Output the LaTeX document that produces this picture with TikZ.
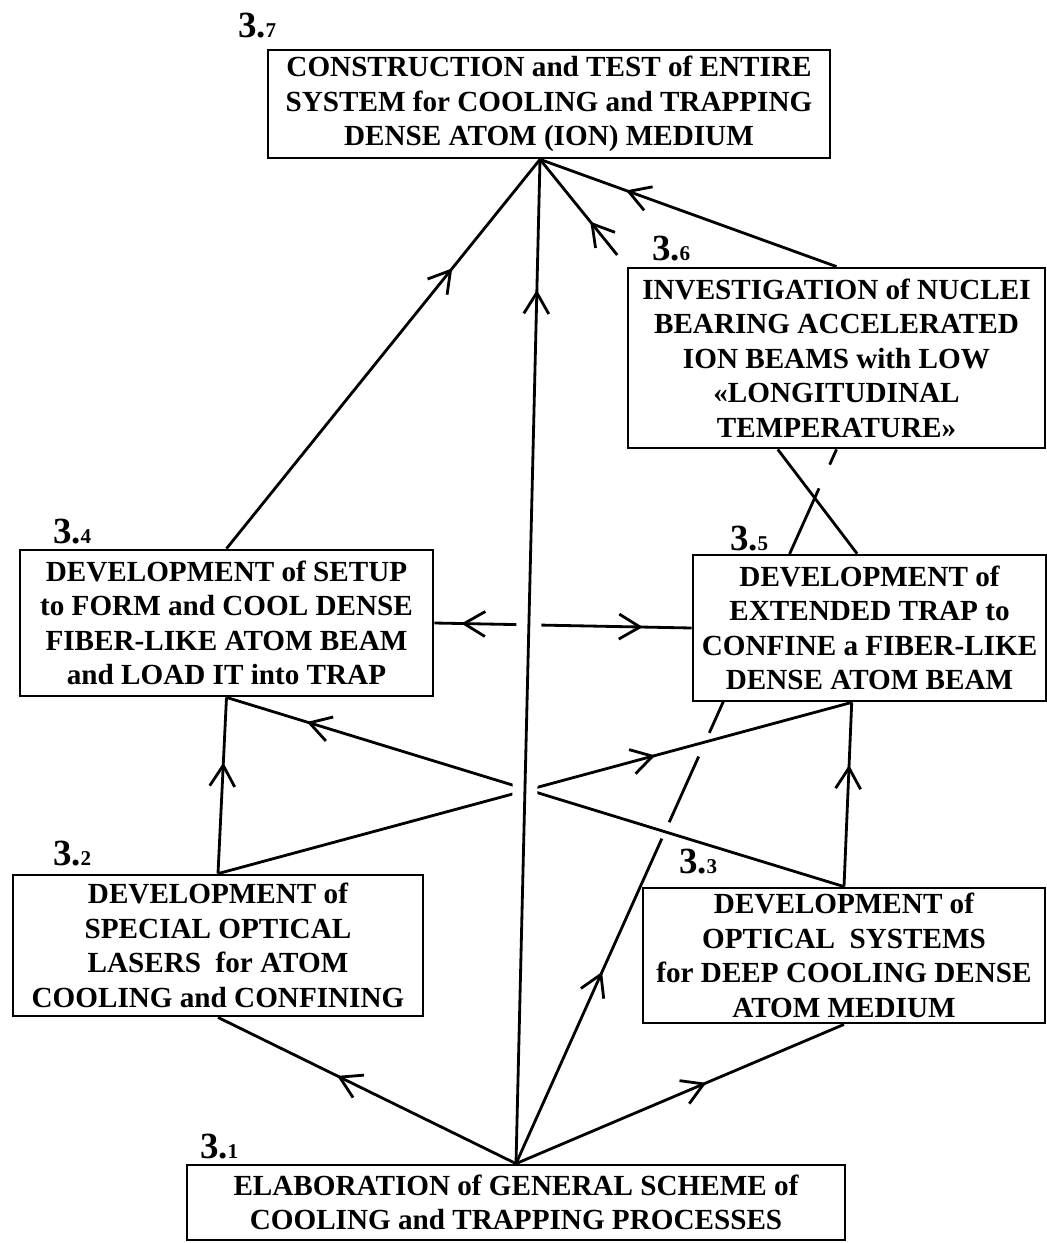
\documentclass[tikz,border=0pt]{standalone}
\usepackage{fontspec}
\setmainfont{Liberation Serif}
\usetikzlibrary{arrows.meta,calc,decorations.markings}
\pgfdeclarelayer{bg}
\pgfsetlayers{bg,main}
\newcommand{\boxfont}{\fontsize{16.6}{19.6}\selectfont\bfseries}
\newcommand{\numbig}{\fontsize{21}{21}\selectfont\bfseries}
\newcommand{\numsmall}{\fontsize{12}{12}\selectfont\bfseries}
\tikzset{midarrow/.style={postaction={decorate,decoration={markings,mark=at position #1 with {\arrow{Straight Barb[length=0.42cm,width=0.5cm]}}}}}}

\begin{document}
\begin{tikzpicture}[x=0.02cm, y=-0.02cm, line width=1.6pt]
\tikzstyle{box} = [rectangle, draw=black, fill=white, inner sep=0pt, align=center, font=\boxfont]
\tikzstyle{num} = [anchor=base west, inner sep=0pt]
\tikzstyle{link} = [line width=1.6pt, line join=round]
\useasboundingbox (0,0) rectangle (1047,1243);
% boxes
\node (b7)[box, minimum width=11.24cm, minimum height=2.16cm] at (549,104) {CONSTRUCTION and TEST of ENTIRE\\SYSTEM for COOLING and TRAPPING\\DENSE ATOM (ION) MEDIUM};
\node (b6)[box, minimum width=8.34cm, minimum height=3.6cm] at (836.5,358) {INVESTIGATION of NUCLEI\\BEARING ACCELERATED\\ION BEAMS with LOW\\«LONGITUDINAL\\TEMPERATURE»};
\node (b4)[box, minimum width=8.26cm, minimum height=2.92cm] at (226.5,623) {DEVELOPMENT of SETUP\\to FORM and COOL DENSE\\FIBER-LIKE ATOM BEAM\\and LOAD IT into TRAP};
\node (b5)[box, minimum width=7.06cm, minimum height=2.92cm] at (869.5,628) {DEVELOPMENT of\\EXTENDED TRAP to\\CONFINE a FIBER-LIKE\\DENSE ATOM BEAM};
\node (b2)[box, minimum width=8.2cm, minimum height=2.82cm] at (218,945.5) {DEVELOPMENT of\\SPECIAL OPTICAL\\LASERS\ \ for ATOM\\COOLING and CONFINING};
\node (b3)[box, minimum width=8.04cm, minimum height=2.7cm] at (844,955.5) {DEVELOPMENT of\\OPTICAL\ \ SYSTEMS\\for DEEP COOLING DENSE\\ATOM MEDIUM};
\node (b1)[box, minimum width=13.16cm, minimum height=1.5cm] at (516,1202.5) {ELABORATION of GENERAL SCHEME of\\COOLING and TRAPPING PROCESSES};
% numbers
\node (l7)[num] at ([xshift=-0.6cm,yshift=0.22cm]b7.north west) {\numbig 3.\numsmall 7};
\node (l6)[num] at ([xshift=0.48cm,yshift=0.12cm]b6.north west) {\numbig 3.\numsmall 6};
\node (l4)[num] at ([xshift=0.66cm,yshift=0.1cm]b4.north west) {\numbig 3.\numsmall 4};
\node (l5)[num] at ([xshift=0.74cm,yshift=0.06cm]b5.north west) {\numbig 3.\numsmall 5};
\node (l2)[num] at ([xshift=0.8cm,yshift=0.16cm]b2.north west) {\numbig 3.\numsmall 2};
\node (l3)[num] at ([xshift=0.72cm,yshift=0.26cm]b3.north west) {\numbig 3.\numsmall 3};
\node (l1)[num] at ([xshift=0.26cm,yshift=0.1cm]b1.north west) {\numbig 3.\numsmall 1};
% connectors
\begin{pgfonlayer}{bg}
\coordinate (t7) at ([xshift=-0.18cm]b7.south);
\coordinate (b5s) at ($(b5.south west)!0.45!(b5.south east)$);
\coordinate (b5n) at ($(b5.north west)!0.465!(b5.north east)$);
\coordinate (b6s) at ($(b6.south west)!0.36!(b6.south east)$);
\coordinate (hmid) at ($(b4.east)!0.5!(b5.west)$);
\draw [link, midarrow=0.6] (b1.north) -- (b2.south);
\draw [link, midarrow=0.58] (b1.north) -- (b3.south);
\draw [link, midarrow=0.59] (b1.north) -- ($(b1.north)!0.455!(b6.south)$);
\draw [link, dash pattern=on 1.44cm off 0.52cm] ($(b1.north)!0.478!(b6.south)$) -- (b6.south);
\draw [link, midarrow=0.63] (b2.north) -- (b4.south);
\draw [link, midarrow=0.66] (b3.north) -- (b5s);
\draw [link, midarrow=0.69] (b2.north) -- (b5s);
\draw [link, midarrow=0.87] (b3.north) -- (b4.south);
\draw [link, midarrow=0.79] (hmid) -- (b4.east);
\draw [link, midarrow=0.62] (hmid) -- (b5.west);
\draw [link] (b6s) -- (b5n);
\draw [link, midarrow=0.72] (b4.north) -- (t7);
\draw [link, midarrow=0.71] (b6.north) -- (t7);
\draw [link, midarrow=0.42, shorten <=0.3cm] (b6.north west) -- (t7);
\draw [white, line width=0.5cm] ($(b1.north)!0.3!(t7)$) -- ($(b1.north)!0.6!(t7)$);
\draw [link, midarrow=0.87] (b1.north) -- (t7);
\end{pgfonlayer}
\end{tikzpicture}
\end{document}
